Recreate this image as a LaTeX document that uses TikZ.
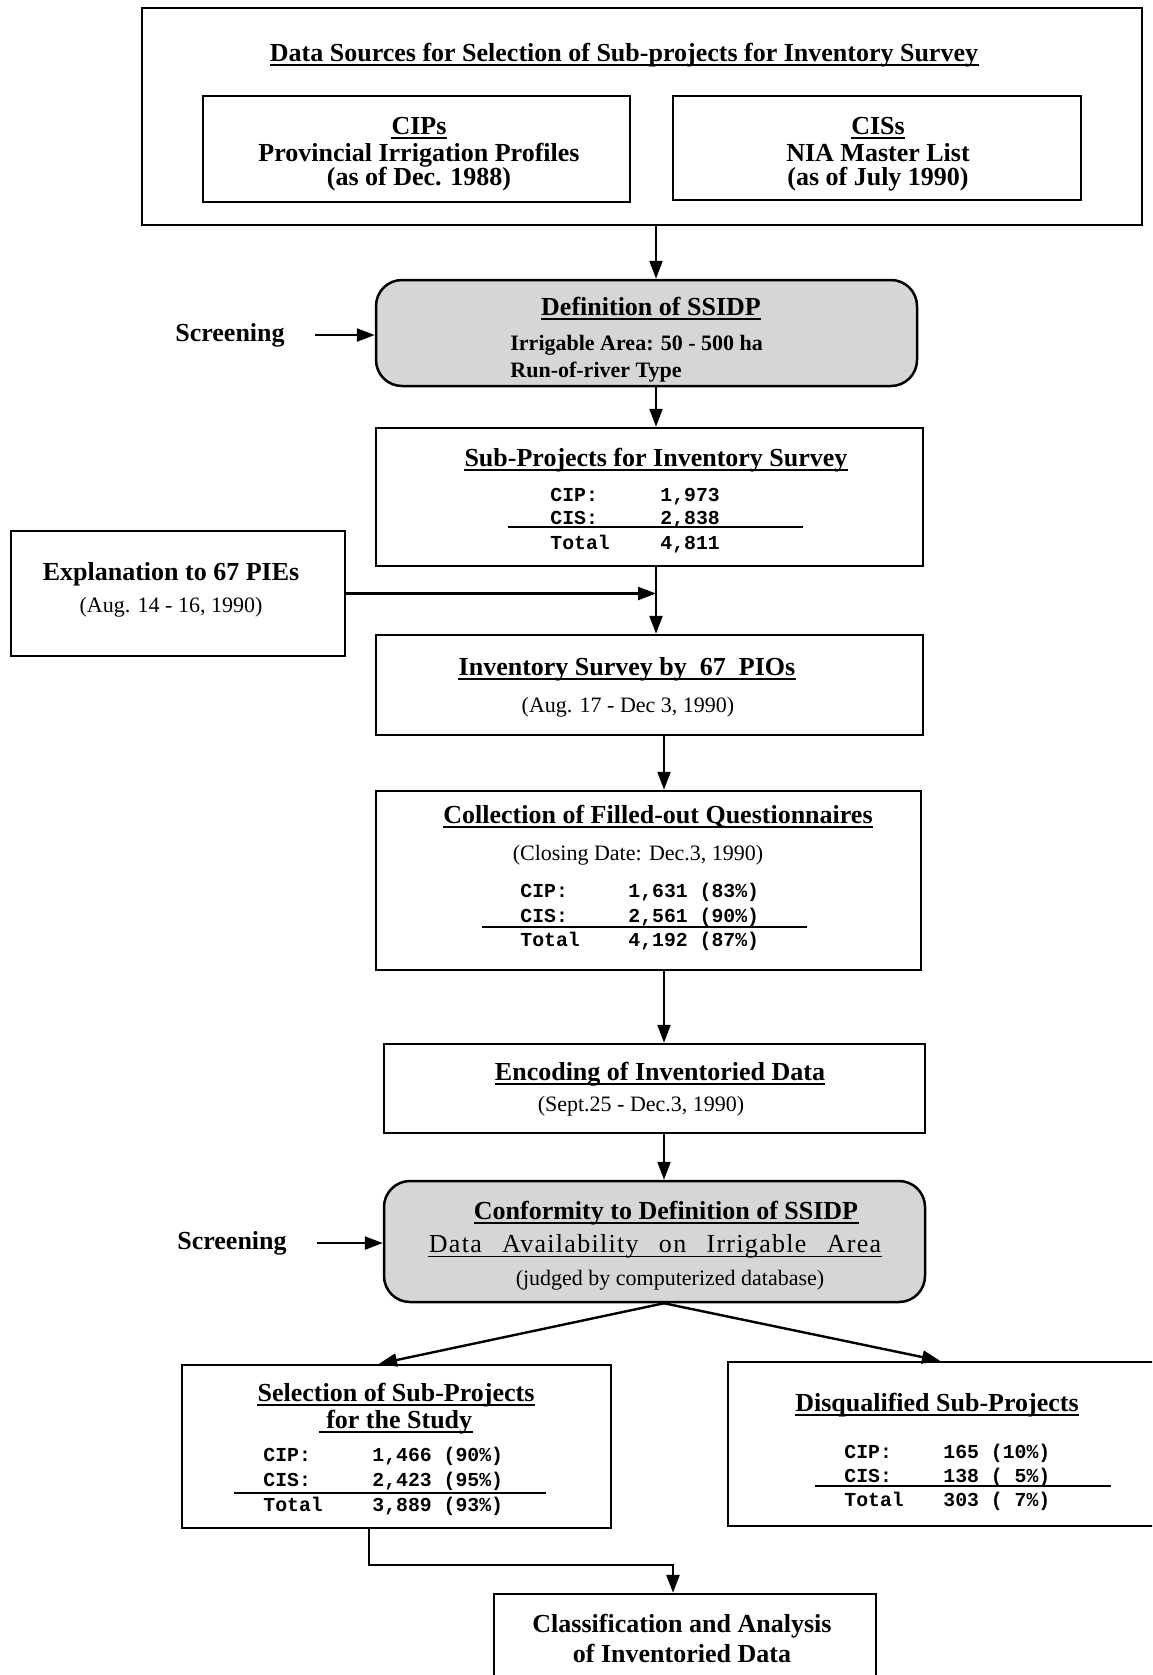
\documentclass[tikz,border=0pt]{standalone}
\usepackage{fontspec}
\setmainfont{Liberation Serif}
\newfontfamily\monof{Liberation Mono}
\newfontfamily\spacedf{Liberation Serif}[LetterSpace=5,WordSpace=2.6]
\usetikzlibrary{arrows.meta,fit}
\tikzset{
  box/.style={draw, line width=1.25pt, inner sep=0pt},
  thinbox/.style={draw, line width=0.9pt, inner sep=0pt},
  gbox/.style={box, fill=gray!32, rounded corners=13pt},
  arr/.style={line width=1.2pt, -{Triangle[length=9pt,width=6.5pt]}},
  hd/.style={inner sep=0pt, anchor=mid, yshift=-1.8pt, font=\fontsize{13}{15}\selectfont\bfseries},
  hdsm/.style={inner sep=0pt, anchor=mid west, yshift=-1.5pt, font=\fontsize{11}{13}\selectfont\bfseries},
  subtxt/.style={inner sep=0pt, anchor=mid, yshift=-1.5pt, font=\fontsize{11}{13}\selectfont},
  mn/.style={inner sep=0pt, anchor=mid west, yshift=-1pt, font=\fontsize{9.9}{12}\selectfont\monof\bfseries},
  rl/.style={line width=1.1pt},
  ulline/.style={line width=1pt}
}
\newcommand\ulof[1]{\draw[ulline] ([yshift=-2pt]#1.base west) -- ([yshift=-2pt]#1.base east);}
\begin{document}
\begin{tikzpicture}[x=0.5pt,y=-0.5pt]
\useasboundingbox (0,0) rectangle (1152,1675);
\clip (0,0) rectangle (1152,1675);
\fill[white] (0,0) rectangle (1152,1675);

% column coordinates
\coordinate (cA) at (656,0);
\coordinate (cB) at (664,0);
\coordinate (cC) at (369,0);
\coordinate (cD) at (673,0);
\coordinate (cRow) at (0,1565);
\coordinate (selTip) at (379,0);
\coordinate (disTip) at (940,0);

% boxes
\node[thinbox, fit={(142,8) (1142,225)}] (top) {};
\node[box, fit={(203,96) (630,202)}] (cips) {};
\node[box, fit={(673,96) (1081,200)}] (ciss) {};
\node[gbox, fit={(376,280) (917,386)}] (def) {};
\node[box, fit={(376,428) (923,566)}] (sub) {};
\node[box, fit={(11,531) (345,656)}] (expl) {};
\node[box, fit={(376,635) (923,735)}] (inv) {};
\node[box, fit={(376,791) (921,970)}] (coll) {};
\node[box, fit={(384,1044) (925,1133)}] (enc) {};
\node[gbox, fit={(384,1181) (925,1302)}] (conf) {};
\node[box, fit={(182,1365) (611,1528)}] (sel) {};
\node[box, fit={(728,1362) (1170,1526)}] (dis) {};
\node[box, fit={(494,1594) (876,1700)}] (cls) {};

% top box texts
\node[hd] (tTitle) at (624,53) {Data Sources for Selection of Sub-projects for Inventory Survey}; \ulof{tTitle}
\node[hd] (tCIPs) at (419,126) {CIPs}; \ulof{tCIPs}
\node[hd] (tCIPa) at (419,153) {Provincial Irrigation Profiles};
\node[hd] (tCIPb) at (419,177) {(as of Dec. 1988)};
\node[hd] (tCISs) at (878,126) {CISs}; \ulof{tCISs}
\node[hd] (tCISa) at (878,153) {NIA Master List};
\node[hd] (tCISb) at (878,177) {(as of July 1990)};

% definition
\node[hd] (scr1) at (230,333) {Screening};
\node[hd] (tDef) at (651,307) {Definition of SSIDP}; \ulof{tDef}
\node[hdsm] (tDefa) at (510,343) {Irrigable Area: 50 - 500 ha};
\node[hdsm] (tDefb) at (510,370) {Run-of-river Type};

% sub-projects
\node[hd] (tSub) at (656,458) {Sub-Projects for Inventory Survey}; \ulof{tSub}
\node[mn] (s1a) at (550,495) {CIP:};
\node[mn] (s1b) at (660,495) {1,973};
\node[mn] (s2a) at (550,518) {CIS:};
\node[mn] (s2b) at (660,518) {2,838};
\node[mn] (s3a) at (550,543) {Total};
\node[mn] (s3b) at (660,543) {4,811};
\draw[rl] (508,527) -- (803,527);

% explanation
\node[hd] (tExp) at (171,572) {Explanation to 67 PIEs};
\node[subtxt] (tExpd) at (171,605) {(Aug. 14 - 16, 1990)};

% inventory
\node[hd] (tInv) at (627,667) {Inventory Survey by~~67~~PIOs}; \ulof{tInv}
\node[subtxt] (tInvd) at (628,705) {(Aug. 17 - Dec 3, 1990)};

% collection
\node[hd] (tCol) at (658,815) {Collection of Filled-out Questionnaires}; \ulof{tCol}
\node[subtxt] (tCold) at (638,853) {(Closing Date: Dec.3, 1990)};
\node[mn] (c1a) at (520,891) {CIP:};
\node[mn] (c1b) at (628,891) {1,631 (83\%)};
\node[mn] (c2a) at (520,916) {CIS:};
\node[mn] (c2b) at (628,916) {2,561 (90\%)};
\node[mn] (c3a) at (520,940) {Total};
\node[mn] (c3b) at (628,940) {4,192 (87\%)};
\draw[rl] (482,927) -- (807,927);

% encoding
\node[hd] (tEnc) at (660,1072) {Encoding of Inventoried Data}; \ulof{tEnc}
\node[subtxt] (tEncd) at (641,1104) {(Sept.25 - Dec.3, 1990)};

% conformity
\node[hd] (scr2) at (232,1241) {Screening};
\node[hd] (tConf) at (666,1211) {Conformity to Definition of SSIDP}; \ulof{tConf}
\node[inner sep=0pt, anchor=mid, yshift=-1.8pt, font=\fontsize{13}{15}\selectfont\spacedf] (tConfa) at (655,1244) {Data Availability on Irrigable Area};
\draw[line width=0.6pt] ([yshift=-2pt]tConfa.base west) -- ([yshift=-2pt]tConfa.base east);
\node[subtxt] (tConfb) at (670,1278) {(judged by computerized database)};

% selection
\node[hd] (tSel1) at (396,1393) {Selection of Sub-Projects}; \ulof{tSel1}
\node[hd] (tSel2) at (396,1420) {~for the Study}; \ulof{tSel2}
\node[mn] (e1a) at (263,1455) {CIP:};
\node[mn] (e1b) at (372,1455) {1,466 (90\%)};
\node[mn] (e2a) at (263,1480) {CIS:};
\node[mn] (e2b) at (372,1480) {2,423 (95\%)};
\node[mn] (e3a) at (263,1505) {Total};
\node[mn] (e3b) at (372,1505) {3,889 (93\%)};
\draw[rl] (234,1493) -- (546,1493);

% disqualified
\node[hd] (tDis) at (937,1403) {Disqualified Sub-Projects}; \ulof{tDis}
\node[mn] (d1a) at (844,1452) {CIP:};
\node[mn] (d1b) at (943,1452) {165 (10\%)};
\node[mn] (d2a) at (844,1476) {CIS:};
\node[mn] (d2b) at (943,1476) {138 (~5\%)};
\node[mn] (d3a) at (844,1500) {Total};
\node[mn] (d3b) at (943,1500) {303 (~7\%)};
\draw[rl] (815,1486) -- (1111,1486);

% classification
\node[hd] (tCls1) at (682,1624) {Classification and Analysis};
\node[hd] (tCls2) at (682,1654) {of Inventoried Data};

% connectors
\draw[arr] (top.south -| cA) -- (def.north -| cA);
\draw[arr] ([xshift=15pt]scr1.east) -- (scr1.east -| def.west);
\draw[arr] (def.south -| cA) -- (sub.north -| cA);
\draw[arr] (sub.south -| cA) -- (inv.north -| cA);
\draw[arr] (expl.east) -- (expl.east -| cA);
\draw[arr] (inv.south -| cB) -- (coll.north -| cB);
\draw[arr] (coll.south -| cB) -- (enc.north -| cB);
\draw[arr] (enc.south -| cB) -- (conf.north -| cB);
\draw[arr] ([xshift=15pt]scr2.east) -- (scr2.east -| conf.west);
\draw[arr] (conf.south -| cB) -- (sel.north -| selTip);
\draw[arr] (conf.south -| cB) -- (dis.north -| disTip);
\draw[arr] (sel.south -| cC) -- (cRow -| cC) -- (cRow -| cD) -- (cls.north -| cD);
\end{tikzpicture}
\end{document}
